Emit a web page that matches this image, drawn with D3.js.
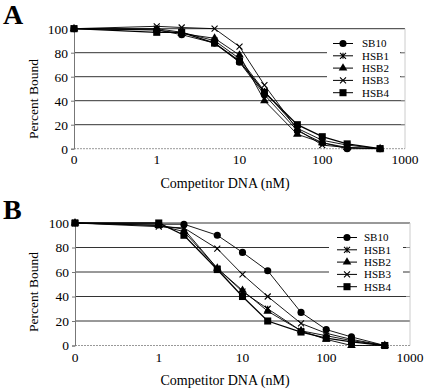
<!DOCTYPE html>
<html><head><meta charset="utf-8">
<script src="https://cdn.jsdelivr.net/npm/d3@7"></script>
<style>body{margin:0;background:#fff}svg{display:block}text{font-family:"Liberation Serif","Times New Roman",serif;fill:#000}</style>
</head><body>
<svg id="c" width="425" height="389"></svg>
<script>
// x values (nM); "0" is plotted at 0.1 on the log axis
const concentrations = [0, 1, 2, 5, 10, 20, 50, 100, 200, 500];
const seriesNames = ["SB10", "HSB1", "HSB2", "HSB3", "HSB4"];
const xTickLabels = ["0", "1", "10", "100", "1000"];
const yTicks = [0, 20, 40, 60, 80, 100];

const panelA_SB10 = [100, 99, 95, 88, 72, 45, 15, 5, 0, 0];
const panelA_HSB1 = [100, 100, 97, 90, 75, 48, 17, 7, 3, 0];
const panelA_HSB2 = [100, 99, 96, 92, 78, 40, 12, 5, 1, 0];
const panelA_HSB3 = [100, 102, 101, 100, 85, 53, 16, 3, 1, 0];
const panelA_HSB4 = [100, 97, 97, 88, 73, 47, 20, 10, 4, 0];

const panelB_SB10 = [100, 99, 99, 90, 76, 61, 27, 13, 7, 0];
const panelB_HSB1 = [100, 98, 95, 63, 44, 30, 12, 8, 4, 0];
const panelB_HSB2 = [100, 98, 93, 63, 45, 28, 12, 5, 0, 0];
const panelB_HSB3 = [100, 97, 96, 79, 58, 40, 18, 10, 5, 0];
const panelB_HSB4 = [100, 100, 90, 62, 40, 20, 11, 6, 3, 0];

const panels = [
  {letter: "A", series: [panelA_SB10, panelA_HSB1, panelA_HSB2, panelA_HSB3, panelA_HSB4],
   x0: 74, x1: 405, yTop: 28.7, yBot: 148.7, letterY: 24, ylabY: 99, tickY: 164, titleY: 188,
   leg: {x: 327, y: 37, w: 73, h: 63, lx0: 333, lx1: 353, tx: 362, ty: 43.5}},
  {letter: "B", series: [panelB_SB10, panelB_HSB1, panelB_HSB2, panelB_HSB3, panelB_HSB4],
   x0: 75, x1: 410, yTop: 223, yBot: 345.5, letterY: 219, ylabY: 292, tickY: 362, titleY: 385,
   leg: {x: 329, y: 230, w: 74, h: 64, lx0: 337, lx1: 357, tx: 364, ty: 237.5}}
];

const svg = d3.select("#c");
const sym = {
  circle: d3.symbol().type(d3.symbolCircle).size(40),
  triangle: d3.symbol().type(d3.symbolTriangle).size(32),
  square: d3.symbol().type(d3.symbolSquare).size(50)
};
function drawMarker(g, i, x, y) {
  if (i === 0) g.append("path").attr("d", sym.circle()).attr("transform", `translate(${x},${y})`).attr("fill", "#000");
  else if (i === 2) g.append("path").attr("d", sym.triangle()).attr("transform", `translate(${x},${y})`).attr("fill", "#000");
  else if (i === 4) g.append("path").attr("d", sym.square()).attr("transform", `translate(${x},${y})`).attr("fill", "#000");
  else {
    const s = 3;
    const p = `M${x-s},${y-s}L${x+s},${y+s}M${x-s},${y+s}L${x+s},${y-s}` + (i === 1 ? `M${x},${y-s}L${x},${y+s}` : "");
    g.append("path").attr("d", p).attr("stroke", "#000").attr("stroke-width", 1.1).attr("fill", "none");
  }
}

panels.forEach(P => {
  const x = d3.scaleLog().domain([0.1, 1000]).range([P.x0, P.x1]);
  const y = d3.scaleLinear().domain([0, 100]).range([P.yBot, P.yTop]);
  const xv = c => x(c === 0 ? 0.1 : c);
  const g = svg.append("g");

  // gridlines
  g.selectAll(".grid").data(yTicks.filter(t => t > 0)).join("line")
    .attr("x1", P.x0).attr("x2", P.x1).attr("y1", d => y(d)).attr("y2", d => y(d))
    .attr("stroke", "#333").attr("stroke-width", 1);
  // right border (faint)
  g.append("line").attr("x1", P.x1).attr("x2", P.x1).attr("y1", P.yTop).attr("y2", P.yBot)
    .attr("stroke", "#ccc").attr("stroke-width", 1);
  // bottom axis (dotted, light)
  g.append("line").attr("x1", P.x0).attr("x2", P.x1).attr("y1", P.yBot).attr("y2", P.yBot)
    .attr("stroke", "#999").attr("stroke-width", 1).attr("stroke-dasharray", "2,1");

  // y axis
  const yAxis = d3.axisLeft(y).tickValues(yTicks).tickSize(3).tickPadding(3);
  const ya = g.append("g").attr("transform", `translate(${P.x0},0)`).call(yAxis);
  ya.select(".domain").attr("stroke", "#777");
  ya.selectAll(".tick line").attr("stroke", "#777");
  ya.selectAll("text").attr("font-size", 13.5).attr("font-family", "Liberation Serif");

  // x tick labels via scale
  const xTickVals = [0.1, 1, 10, 100, 1000];
  g.selectAll(".xt").data(xTickVals).join("text")
    .attr("x", d => x(d)).attr("y", P.tickY).attr("text-anchor", "middle")
    .attr("font-size", 13.5).text((d, i) => xTickLabels[i]);

  // series
  P.series.forEach((vals, i) => {
    const line = d3.line().x((d, j) => xv(concentrations[j])).y(d => y(d));
    g.append("path").datum(vals).attr("d", line).attr("fill", "none")
      .attr("stroke", "#000").attr("stroke-width", i === 4 ? 1.3 : 0.9);
  });
  P.series.forEach((vals, i) => {
    vals.forEach((v, j) => drawMarker(g, i, xv(concentrations[j]), y(v)));
  });

  // legend
  const L = P.leg;
  g.append("rect").attr("x", L.x).attr("y", L.y).attr("width", L.w).attr("height", L.h).attr("fill", "#fff");
  // right side tick marks visible beside legend
  yTicks.filter(t => t > 0 && t < 100).forEach(t => {
    g.append("line").attr("x1", P.x1 - 4).attr("x2", P.x1).attr("y1", y(t)).attr("y2", y(t)).attr("stroke", "#999");
  });
  seriesNames.forEach((n, i) => {
    const ly = L.ty + i * 12.3;
    g.append("line").attr("x1", L.lx0).attr("x2", L.lx1).attr("y1", ly).attr("y2", ly).attr("stroke", "#000").attr("stroke-width", 1);
    drawMarker(g, i, (L.lx0 + L.lx1) / 2, ly);
    g.append("text").attr("x", L.tx).attr("y", ly).attr("dy", "0.35em").attr("font-size", 11).text(n);
  });

  // titles
  g.append("text").attr("x", 225).attr("y", P.titleY).attr("text-anchor", "middle").attr("font-size", 14).text("Competitor DNA (nM)");
  g.append("text").attr("transform", `translate(38,${P.ylabY}) rotate(-90)`).attr("text-anchor", "middle").attr("font-size", 13.5).text("Percent Bound");
  g.append("text").attr("x", 3).attr("y", P.letterY).attr("font-size", 28).attr("font-weight", "bold").text(P.letter);
});
</script>
</body></html>
